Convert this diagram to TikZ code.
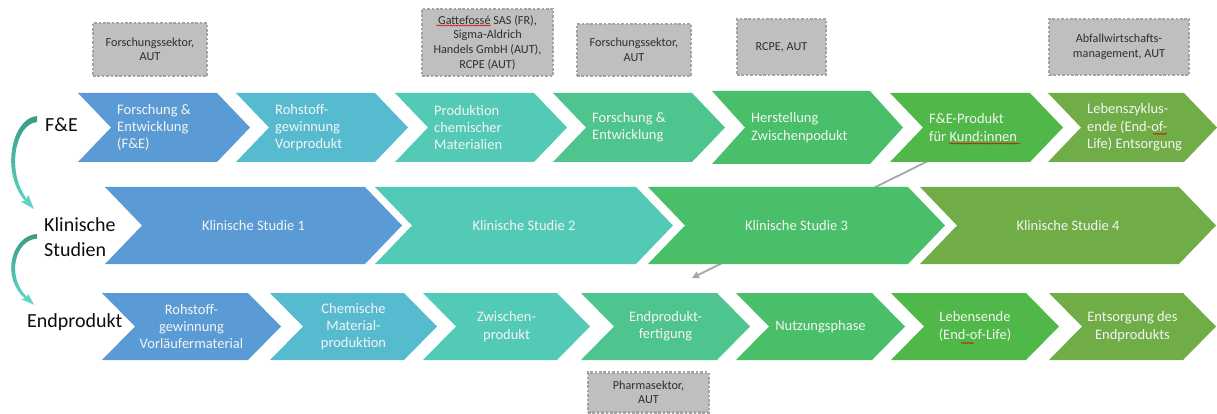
\documentclass[tikz,border=0pt]{standalone}
\usepackage{fontspec}
\setmainfont{Carlito}
\usetikzlibrary{arrows.meta,decorations.pathmorphing}
\definecolor{cA}{HTML}{5B9BD5}
\definecolor{cB}{HTML}{57BBD0}
\definecolor{cC}{HTML}{53CAB6}
\definecolor{cD}{HTML}{4EC48F}
\definecolor{cE}{HTML}{48BF68}
\definecolor{cF}{HTML}{50B848}
\definecolor{cG}{HTML}{70AD47}
\definecolor{boxfill}{HTML}{BFBFBF}
\definecolor{boxline}{HTML}{A3A3A3}
\definecolor{arrdark}{HTML}{3A9A86}
\definecolor{arrlight}{HTML}{5FD9CA}
\definecolor{lineg}{HTML}{A6A6A6}
\definecolor{chevtxt}{HTML}{F4F4F4}

% #1 name, #2 left, #3 tip, #4 top, #5 bottom, #6 depth, #7 colour, #8 text
\newcommand\chevL[8]{%
  \fill[#7] (#2,#4) -- (#3-#6,#4) -- (#3,{(#4+#5)/2}) -- (#3-#6,#5) -- (#2,#5) -- (#2+#6,{(#4+#5)/2}) -- cycle;
  \node[chevtext, anchor=west, align=left] (#1) at (#2+#6+6,{(#4+#5)/2}) {#8};}
\newcommand\chevC[8]{%
  \fill[#7] (#2,#4) -- (#3-#6,#4) -- (#3,{(#4+#5)/2}) -- (#3-#6,#5) -- (#2,#5) -- (#2+#6,{(#4+#5)/2}) -- cycle;
  \node[chevtext, align=center] (#1) at ({(#2+#3)/2},{(#4+#5)/2}) {#8};}
% curved arrow shape, origin at its start
\newcommand\bendarrow{%
  \shade[top color=arrdark, bottom color=arrlight]
    (37,0) .. controls (12,2) and (0,56) .. (25,85)
    -- (20.6,85.5) -- (34,93) -- (28,78.5) -- (27,83)
    .. controls (6,56) and (15,8) .. (37,6) -- cycle;}

\begin{document}
\begin{tikzpicture}[x=1pt,y=-1pt,
  chevtext/.style={font=\fontsize{14.5}{17.3}\selectfont, text=chevtxt, inner sep=0pt},
  graybox/.style={fill=boxfill, draw=boxline, line width=2.4pt, dash pattern=on 2.6pt off 1.8pt,
    font=\fontsize{12.2}{14.6}\selectfont, text=black!82, align=center, inner sep=0pt},
  rowlabel/.style={font=\fontsize{20}{25}\selectfont, text=black!95, inner sep=0pt, align=left},
  spell/.style={red!85!black, line width=0.5pt, decorate, decoration={snake, amplitude=0.6pt, segment length=2.4pt}}]
\useasboundingbox (0,0) rectangle (1217,414);

% gray connector (behind the chevrons)
\coordinate (gs) at (928,161);
\coordinate (ge) at (692,278);
\draw[lineg, line width=1.8pt, -{Triangle[length=7pt,width=7pt]}] (gs) -- (ge);

% row 1
\chevL{r1a}{78}{250}{93}{162}{33}{cA}{Forschung \&\\Entwicklung\\(F\&E)}
\chevL{r1b}{236}{408}{93}{162}{33}{cB}{Rohstoff-\\gewinnung\\Vorprodukt}
\chevL{r1c}{395}{567}{93}{162}{33}{cC}{Produktion\\chemischer\\Materialien}
\chevL{r1d}{553}{725}{93}{162}{33}{cD}{Forschung \&\\Entwicklung}
\chevL{r1e}{712}{903}{91}{164}{33}{cE}{Herstellung\\Zwischenpodukt}
\chevL{r1f}{890}{1063}{93}{162}{33}{cF}{F\&E-Produkt\\für Kund:innen}
\chevL{r1g}{1048}{1217}{93}{162}{33}{cG}{Lebenszyklus-\\ende (End-of-\\Life) Entsorgung}

% row 2
\chevC{r2a}{105}{402}{187}{264}{37}{cA}{Klinische Studie 1}
\chevC{r2b}{375}{673}{187}{264}{37}{cC}{Klinische Studie 2}
\chevC{r2c}{648}{945}{187}{264}{37}{cE}{Klinische Studie 3}
\chevC{r2d}{920}{1216}{187}{264}{37}{cG}{Klinische Studie 4}

% row 3
\chevC{r3a}{102}{281}{293}{360}{33}{cA}{Rohstoff-\\gewinnung\\Vorläufermaterial}
\chevC{r3b}{270}{437}{293}{360}{33}{cB}{Chemische\\Material-\\produktion}
\chevC{r3c}{423}{590}{293}{360}{33}{cC}{Zwischen-\\produkt}
\chevC{r3d}{581}{750}{293}{360}{33}{cD}{Endprodukt-\\fertigung}
\chevC{r3e}{736}{905}{293}{360}{33}{cE}{Nutzungsphase}
\chevC{r3f}{891}{1059}{293}{360}{33}{cF}{Lebensende\\(End-of-Life)}
\chevC{r3g}{1049}{1216}{293}{360}{33}{cG}{Entsorgung des\\Endprodukts}

% gray boxes
\node[graybox, minimum width=114pt, minimum height=53pt] (b1) at (150,49.5) {Forschungssektor,\\AUT};
\node[graybox, minimum width=131pt, minimum height=67pt] (b2) at (487.5,42.5) {Gattefossé SAS (FR),\\Sigma-Aldrich\\Handels GmbH (AUT),\\RCPE (AUT)};
\node[graybox, minimum width=114pt, minimum height=52pt] (b3) at (634,50) {Forschungssektor,\\AUT};
\node[graybox, minimum width=89pt, minimum height=56pt] (b4) at (781.5,47) {RCPE, AUT};
\node[graybox, minimum width=140pt, minimum height=56pt] (b5) at (1119,47) {Abfallwirtschafts-\\management, AUT};
\node[graybox, minimum width=121pt, minimum height=40pt] (b6) at (648.5,392.5) {Pharmasektor,\\AUT};

% row labels
\node[rowlabel, anchor=west] (lfe) at (45,125) {F\&E};
\node[rowlabel, anchor=west] (lks) at (44,237) {Klinische\\Studien};
\node[rowlabel, anchor=west] (lep) at (27,322) {Endprodukt};

% curved arrows between row labels
\coordinate (k1) at (0,116);
\coordinate (k2) at (0,234);
\begin{scope}[shift={(k1)}] \bendarrow \end{scope}
\begin{scope}[shift={(k2)}, yscale=0.76] \bendarrow \end{scope}

% spell-check underlines
\draw[spell] (436,25.5) -- (491,25.5);
\draw[spell] (949,143.5) -- (1020,143.5);
\draw[spell] (1153,134) -- (1167,134);
\draw[spell] (961,343) -- (974,343);
\end{tikzpicture}
\end{document}
